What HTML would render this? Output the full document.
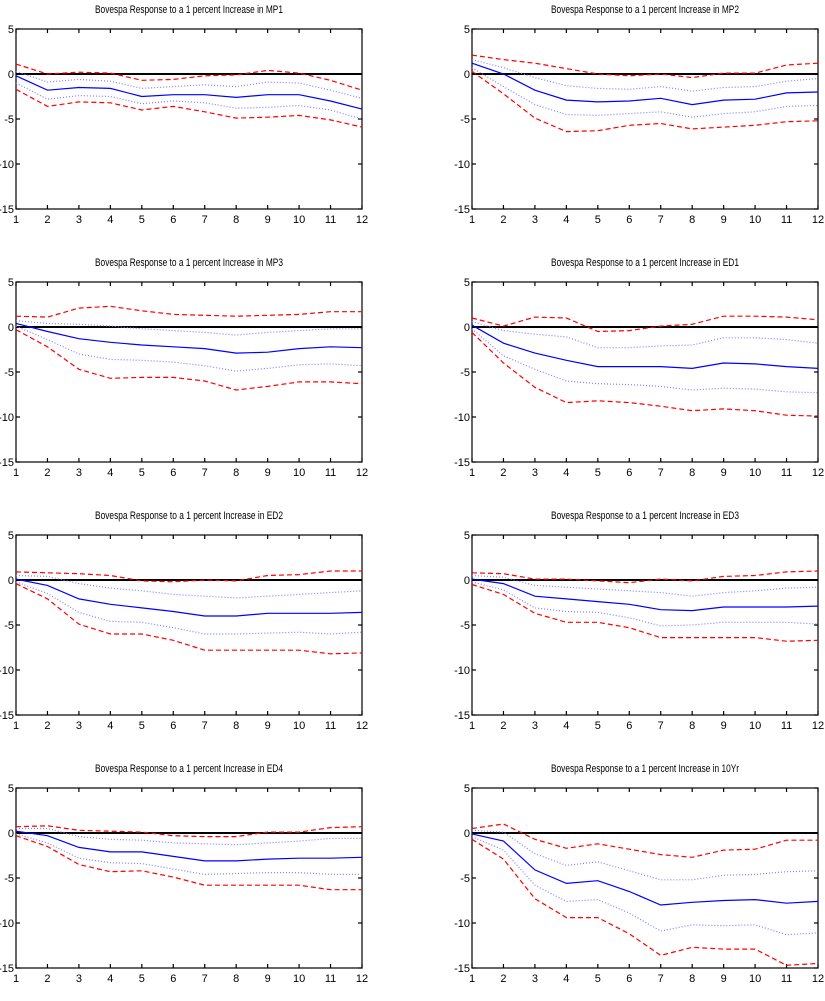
<!DOCTYPE html>
<html><head><meta charset="utf-8"><style>
html,body{margin:0;padding:0;background:#fff;}
svg{display:block;font-family:"Liberation Sans",sans-serif;}
</style></head><body>
<svg id="fig" width="825" height="1001" viewBox="0 0 825 1001" xmlns="http://www.w3.org/2000/svg"></svg>
<script>
const periods=[1,2,3,4,5,6,7,8,9,10,11,12];
const yTicks=[5,0,-5,-10,-15];
const titles=["MP1","MP2","MP3","ED1","ED2","ED3","ED4","10Yr"];
const centerSeries=[
[-0.2,-1.8,-1.5,-1.6,-2.5,-2.3,-2.3,-2.6,-2.3,-2.3,-3,-3.9],
[1.2,0,-1.8,-2.9,-3.1,-3,-2.7,-3.4,-2.9,-2.8,-2.1,-2],
[0.4,-0.5,-1.3,-1.7,-2,-2.2,-2.4,-2.9,-2.8,-2.4,-2.2,-2.3],
[0.2,-1.8,-2.9,-3.7,-4.4,-4.4,-4.4,-4.6,-4,-4.1,-4.4,-4.6],
[0.1,-0.6,-2.1,-2.7,-3.1,-3.5,-4,-4,-3.7,-3.7,-3.7,-3.6],
[0.1,-0.4,-1.8,-2.1,-2.4,-2.7,-3.3,-3.4,-3,-3,-3,-2.9],
[0.2,-0.3,-1.6,-2.1,-2.1,-2.6,-3.1,-3.1,-2.9,-2.8,-2.8,-2.7],
[-0.1,-0.9,-4.1,-5.6,-5.3,-6.5,-8,-7.7,-7.5,-7.4,-7.8,-7.6]];
const innerUpper=[
[0.3,-0.9,-0.6,-0.8,-1.6,-1.4,-1.2,-1.4,-0.9,-1,-1.8,-2.7],
[1.6,0.7,-0.4,-1.3,-1.6,-1.7,-1.4,-1.9,-1.5,-1.4,-0.8,-0.5],
[0.7,0.4,0.3,0.1,-0.2,-0.4,-0.6,-0.9,-0.6,-0.4,-0.2,-0.2],
[0.6,-0.4,-0.8,-1.1,-2.3,-2.3,-2.1,-2,-1.2,-1.2,-1.4,-1.8],
[0.5,0.4,-0.4,-0.9,-1.2,-1.6,-1.8,-2,-1.8,-1.6,-1.4,-1.2],
[0.5,0.3,-0.6,-0.8,-1,-1.2,-1.4,-1.8,-1.4,-1.2,-0.9,-0.8],
[0.5,0.5,-0.4,-0.7,-0.8,-1.1,-1.2,-1.3,-1.1,-0.9,-0.6,-0.6],
[0.3,0.1,-2.3,-3.6,-3.2,-4.2,-5.2,-5.2,-4.7,-4.6,-4.3,-4.2]];
const innerLower=[
[-1,-2.8,-2.4,-2.5,-3.3,-3,-3.2,-3.8,-3.7,-3.5,-4,-5],
[0.7,-1.4,-3.4,-4.5,-4.6,-4.4,-4.2,-4.8,-4.4,-4.2,-3.6,-3.5],
[0.1,-1.4,-3,-3.6,-3.7,-3.9,-4.3,-4.9,-4.6,-4.2,-4.1,-4.3],
[-0.2,-3.2,-4.7,-6,-6.3,-6.4,-6.6,-7,-6.8,-6.9,-7.2,-7.3],
[-0.2,-1.5,-3.6,-4.6,-4.7,-5.3,-6,-6,-5.9,-5.8,-6,-5.8],
[-0.2,-1.1,-3.1,-3.5,-3.6,-4.2,-5.1,-5,-4.7,-4.7,-4.7,-4.9],
[-0.1,-1.1,-2.8,-3.3,-3.4,-4,-4.6,-4.5,-4.4,-4.4,-4.6,-4.6],
[-0.4,-1.9,-5.8,-7.6,-7.4,-8.9,-10.9,-10.2,-10.3,-10.2,-11.3,-11.1]];
const outerUpper=[
[1.1,0,0.2,0.1,-0.7,-0.6,-0.2,-0.1,0.4,0.1,-0.7,-1.8],
[2.1,1.6,1.2,0.6,0,-0.2,0,-0.4,0.1,0.1,1,1.2],
[1.2,1.1,2.1,2.3,1.8,1.4,1.3,1.2,1.3,1.4,1.7,1.7],
[1,0.1,1.1,1,-0.5,-0.4,0.1,0.3,1.2,1.2,1.1,0.8],
[0.9,0.8,0.7,0.5,-0.1,-0.2,0,-0.1,0.5,0.6,1,1],
[0.8,0.7,0.1,0.1,-0.1,-0.3,0.1,-0.1,0.4,0.5,0.9,1],
[0.7,0.8,0.3,0.2,0.1,-0.3,-0.4,-0.4,0.1,0.1,0.6,0.7],
[0.5,1,-0.7,-1.7,-1.2,-1.8,-2.4,-2.7,-1.9,-1.8,-0.8,-0.8]];
const outerLower=[
[-1.7,-3.6,-3.1,-3.2,-4,-3.6,-4.2,-4.9,-4.8,-4.6,-5.1,-5.9],
[0.3,-2.2,-4.9,-6.4,-6.3,-5.7,-5.5,-6.1,-5.9,-5.7,-5.3,-5.2],
[-0.3,-2.2,-4.7,-5.7,-5.6,-5.6,-6,-7,-6.6,-6.1,-6.1,-6.3],
[-0.6,-4,-6.7,-8.4,-8.2,-8.4,-8.8,-9.3,-9.1,-9.3,-9.8,-9.9],
[-0.4,-2.1,-4.9,-6,-6,-6.7,-7.8,-7.8,-7.8,-7.8,-8.2,-8.1],
[-0.5,-1.6,-3.7,-4.7,-4.7,-5.3,-6.4,-6.4,-6.4,-6.4,-6.8,-6.7],
[-0.3,-1.5,-3.5,-4.3,-4.2,-4.9,-5.8,-5.8,-5.8,-5.8,-6.3,-6.3],
[-0.7,-2.9,-7.3,-9.4,-9.4,-11.2,-13.6,-12.7,-12.9,-12.9,-14.7,-14.5]];

const NS="http://www.w3.org/2000/svg";
const svg=document.getElementById('fig');
function mk(tag,attrs,parent){const e=document.createElementNS(NS,tag);for(const k in attrs)e.setAttribute(k,attrs[k]);parent.appendChild(e);return e;}
const colsX=[[16,362],[472,818]];
const rowsY=[29,282,535,788];
const H=180,YMAX=5,YMIN=-15;

for(let p=0;p<8;p++){
  const [x0,x1]=colsX[p%2];const top=rowsY[Math.floor(p/2)];const bot=top+H;
  const xs=v=>x0+(v-1)/(periods.length-1)*(x1-x0);
  const ys=v=>top+(YMAX-v)/(YMAX-YMIN)*H;
  const g=mk('g',{},svg);
  
  
  const t=mk('text',{x:(x0+x1)/2,y:top-16,'text-anchor':'middle','font-size':'11',textLength:'188',lengthAdjust:'spacingAndGlyphs',fill:'#000'},g);
  t.textContent='Bovespa Response to a 1 percent Increase in '+titles[p];
  
  
  const fr=mk('rect',{x:x0,y:top,width:x1-x0,height:H,fill:'none',stroke:'#000','stroke-width':'1.2'},g);
  
  
  periods.forEach(v=>{
    const x=xs(v);
    mk('line',{x1:x,x2:x,y1:top,y2:top+4,stroke:'#000','stroke-width':'1.2'},g);
    mk('line',{x1:x,x2:x,y1:bot,y2:bot-4,stroke:'#000','stroke-width':'1.2'},g);
    const l=mk('text',{x:x,y:bot+14,'text-anchor':'middle','font-size':'11',fill:'#000'},g);
    l.textContent=v;
    
    
  });
  yTicks.forEach(v=>{
    const y=ys(v);
    mk('line',{x1:x0,x2:x0+4,y1:y,y2:y,stroke:'#000','stroke-width':'1.2'},g);
    mk('line',{x1:x1,x2:x1-4,y1:y,y2:y,stroke:'#000','stroke-width':'1.2'},g);
    const l=mk('text',{x:x0-2,y:y+4,'text-anchor':'end','font-size':'11',fill:'#000'},g);
    l.textContent=v;
    
    
  });
  const z=mk('line',{x1:x0,x2:x1,y1:ys(0),y2:ys(0),stroke:'#000','stroke-width':'2'},g);
  
  
  const pts=arr=>arr.map((v,i)=>xs(periods[i]).toFixed(1)+','+ys(v).toFixed(1)).join(' ');
  const series=[
    [outerUpper[p],'#ff0000','5,3','1.2','outer-upper-band'],
    [outerLower[p],'#ff0000','5,3','1.2','outer-lower-band'],
    [innerUpper[p],'#8080ff','1,2','1.2','inner-upper-band'],
    [innerLower[p],'#8080ff','1,2','1.2','inner-lower-band'],
    [centerSeries[p],'#0000ff','none','1.2','point-estimate-line']];
  series.forEach(s=>{
    const pl=mk('polyline',{points:pts(s[0]),fill:'none',stroke:s[1],'stroke-width':s[3],'stroke-dasharray':s[2]},g);
    
    
  });
}
</script>
</body></html>
